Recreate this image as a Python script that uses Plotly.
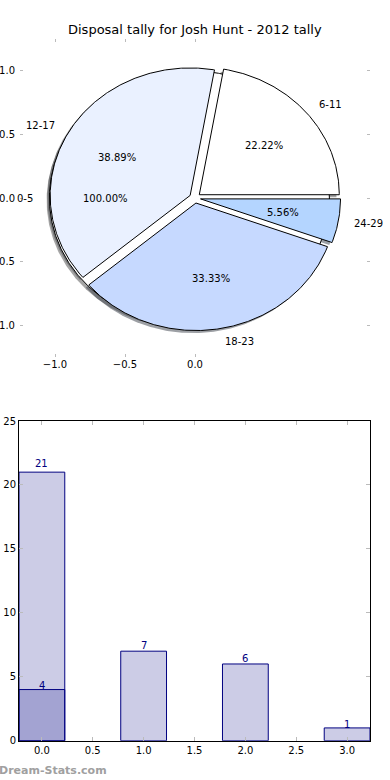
import numpy as np
import plotly.graph_objects as go

# ---------------- data ----------------
title_text = "Disposal tally for Josh Hunt - 2012 tally"
pie_labels = ["0-5", "6-11", "12-17", "18-23", "24-29"]
pie_pcts = [100.00, 22.22, 38.89, 33.33, 5.56]
pie_colors = ["#FFFFFF", "#FFFFFF", "#EAF1FF", "#C6D9FF", "#B4D5FF"]

bar_x = [0, 1, 2, 3]
bar_counts = [21, 7, 6, 1]
overlay_x = [0]
overlay_counts = [4]

pie_xticks = [-1.0, -0.5, 0.0]
pie_yticks = [-1.0, -0.5, 0.0, 0.5, 1.0]
bar_xticks = [0.0, 0.5, 1.0, 1.5, 2.0, 2.5, 3.0]
bar_yticks = [0, 5, 10, 15, 20, 25]

watermark = "Dream-Stats.com"

# ---------------- style constants ----------------
EXPLODE = 0.04
SHADOW_OFF = (-0.02, -0.02)
FONT = "DejaVu Sans"
NAVY = "#000080"

W, H = 390, 780


def hex_rgb(h):
    h = h.lstrip("#")
    return tuple(int(h[i:i + 2], 16) for i in (0, 2, 4))


def wedge_path(cx, cy, t1, t2):
    if t2 - t1 >= 359.99:
        th = np.radians(np.linspace(0, 360, 721))
        return list(cx + np.cos(th)), list(cy + np.sin(th))
    n = max(int((t2 - t1) * 2), 8)
    th = np.radians(np.linspace(t1, t2, n))
    xs = np.concatenate([[cx], cx + np.cos(th), [cx]])
    ys = np.concatenate([[cy], cy + np.sin(th), [cy]])
    return list(xs), list(ys)


fig = go.Figure()

spans = np.array(pie_pcts) * 3.6
starts = np.concatenate([[0.0], np.cumsum(spans)[:-1]])
mids = starts + spans / 2.0

centers = []
for s, sp, m in zip(starts, spans, mids):
    cx = EXPLODE * np.cos(np.radians(m))
    cy = EXPLODE * np.sin(np.radians(m))
    centers.append((cx, cy))

# shadows (below all wedges)
for (cx, cy), s, sp, col in zip(centers, starts, spans, pie_colors):
    r, g, b = hex_rgb(col)
    xs, ys = wedge_path(cx + SHADOW_OFF[0], cy + SHADOW_OFF[1], s, s + sp)
    fig.add_trace(go.Scatter(
        x=xs, y=ys, mode="lines", fill="toself",
        fillcolor=f"rgba({int(r*0.3)},{int(g*0.3)},{int(b*0.3)},0.5)",
        line=dict(width=0), hoverinfo="skip", showlegend=False,
        xaxis="x", yaxis="y"))

# wedges
for (cx, cy), s, sp, col, lab in zip(centers, starts, spans, pie_colors, pie_labels):
    xs, ys = wedge_path(cx, cy, s, s + sp)
    fig.add_trace(go.Scatter(
        x=xs, y=ys, mode="lines", fill="toself", fillcolor=col,
        line=dict(color="black", width=1), name=lab, showlegend=False,
        xaxis="x", yaxis="y"))

annotations = []
# pie labels and percentages
for (cx, cy), m, lab, pct in zip(centers, mids, pie_labels, pie_pcts):
    c, s_ = np.cos(np.radians(m)), np.sin(np.radians(m))
    annotations.append(dict(
        x=cx + 1.1 * c, y=cy + 1.1 * s_, xref="x", yref="y",
        text=lab, showarrow=False, xanchor="left" if c > 0 else "right",
        yanchor="middle", font=dict(family=FONT, size=10, color="black")))
    annotations.append(dict(
        x=cx + 0.6 * c, y=cy + 0.6 * s_, xref="x", yref="y",
        text=f"{pct:.2f}%", showarrow=False, xanchor="center",
        yanchor="middle", font=dict(family=FONT, size=10, color="black")))

# bars
fig.add_trace(go.Bar(
    x=bar_x, y=bar_counts, width=0.45,
    marker=dict(color="rgba(0,0,128,0.2)", line=dict(color=NAVY, width=1)),
    showlegend=False, xaxis="x2", yaxis="y2"))
fig.add_trace(go.Bar(
    x=overlay_x, y=overlay_counts, width=0.45,
    marker=dict(color="rgba(0,0,128,0.2)", line=dict(color=NAVY, width=1)),
    showlegend=False, xaxis="x2", yaxis="y2"))

for xv, yv in list(zip(bar_x, bar_counts)) + list(zip(overlay_x, overlay_counts)):
    annotations.append(dict(
        x=xv, y=yv * 1.02, xref="x2", yref="y2", text=str(yv),
        showarrow=False, xanchor="center", yanchor="bottom", yshift=-4,
        font=dict(family=FONT, size=10, color=NAVY)))

# title and watermark
annotations.append(dict(
    x=194.5 / W, y=1 - 30 / H, xref="paper", yref="paper", text=title_text,
    showarrow=False, xanchor="center", yanchor="middle",
    font=dict(family=FONT, size=13, color="black")))
annotations.append(dict(
    x=0, y=1 - 770 / H, xref="paper", yref="paper", text=f"<b>{watermark}</b>",
    showarrow=False, xanchor="left", yanchor="middle", xshift=-3,
    font=dict(family=FONT, size=11, color="#a0a0a0")))

tick_font = dict(family=FONT, size=10, color="black")

fig.update_layout(
    width=W, height=H, autosize=False,
    margin=dict(l=0, r=0, t=0, b=0, autoexpand=False),
    paper_bgcolor="white", plot_bgcolor="white",
    barmode="overlay", showlegend=False,
    annotations=annotations,
    xaxis=dict(
        domain=[20 / W, 370 / W], range=[-1.25, 1.25], anchor="y",
        tickvals=pie_xticks, ticktext=[f"{v:.1f}".replace("-", "\u2212") for v in pie_xticks],
        ticks="inside", ticklen=3, tickcolor="#bbbbbb", tickwidth=1,
        mirror="ticks", showline=False, showgrid=False, zeroline=False,
        tickfont=tick_font, fixedrange=True, automargin=False),
    yaxis=dict(
        domain=[1 - 357.4 / H, 1 - 38.6 / H], range=[-1.25, 1.25], anchor="x",
        tickvals=pie_yticks, ticktext=[f"{v:.1f}".replace("-", "\u2212") for v in pie_yticks],
        ticks="inside", ticklen=3, tickcolor="#bbbbbb", tickwidth=1,
        mirror="ticks", showline=False, showgrid=False, zeroline=False,
        tickfont=tick_font, fixedrange=True, automargin=False,
        ticklabelstandoff=4),
    xaxis2=dict(
        domain=[19 / W, 370 / W], range=[-0.225, 3.225], anchor="y2",
        tickvals=bar_xticks, ticktext=[f"{v:.1f}" for v in bar_xticks],
        ticks="inside", ticklen=4, tickcolor="#bbbbbb", tickwidth=1,
        mirror="allticks", showline=True, linecolor="black", linewidth=1,
        showgrid=False, zeroline=False, tickfont=tick_font, fixedrange=True,
        automargin=False),
    yaxis2=dict(
        domain=[1 - 740.7 / H, 1 - 421 / H], range=[0, 25], anchor="x2",
        tickvals=bar_yticks, ticktext=[str(v) for v in bar_yticks],
        ticks="inside", ticklen=4, tickcolor="#bbbbbb", tickwidth=1,
        mirror="allticks", showline=True, linecolor="black", linewidth=1,
        showgrid=False, zeroline=False, tickfont=tick_font, fixedrange=True,
        automargin=False),
)

fig.write_html(
    "out.html",
    config={"displayModeBar": False, "staticPlot": True},
    post_script="document.body.style.margin='0';document.body.style.padding='0';",
)
